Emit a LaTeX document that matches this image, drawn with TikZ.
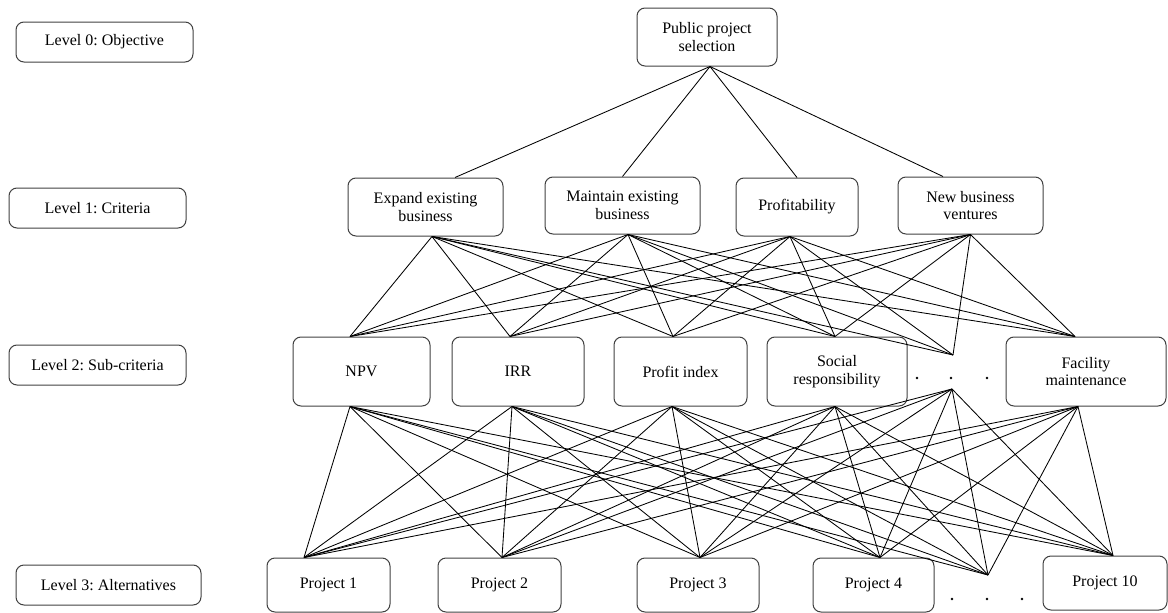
\documentclass[tikz,border=0pt]{standalone}
\usepackage{fontspec}
\setmainfont{Liberation Serif}
\frenchspacing
\begin{document}
\begin{tikzpicture}[x=1pt,y=-1pt,
  box/.style={draw=black!75, line width=1pt, rounded corners=8pt, inner sep=0pt,
    align=center, font=\fontsize{16}{17.5}\selectfont},
  link/.style={draw=black, line width=0.85pt},
  dotmark/.style={circle, fill=black, inner sep=0pt, minimum size=2.8pt}]
\useasboundingbox (0,0) rectangle (1168,613);

% level labels on the left
\node[box, minimum width=177pt, minimum height=40pt] (lab0) at (104.5,42) {Level 0: Objective};
\node[box, minimum width=177pt, minimum height=40pt] (lab1) at (97.5,208) {Level 1: Criteria};
\node[box, minimum width=177pt, minimum height=40pt] (lab2) at (97.5,365) {Level 2: Sub-criteria};
\node[box, minimum width=185pt, minimum height=40pt] (lab3) at (108.5,585) {Level 3: Alternatives};

% level 0: objective
\node[box, minimum width=140pt, minimum height=58pt] (goal) at (707,37) {Public project\\selection};

% level 1: criteria
\node[box, minimum width=155pt, minimum height=58pt] (e1) at (425.5,207) {Expand existing\\business};
\node[box, minimum width=155pt, minimum height=57pt] (e2) at (622.5,205.5) {Maintain existing\\business};
\node[box, minimum width=122pt, minimum height=58pt] (e3) at (797,207) {Profitability};
\node[box, minimum width=145pt, minimum height=57pt] (e4) at (970.5,205.5) {New business\\ventures};

% level 2: sub-criteria
\node[box, minimum width=137pt, minimum height=69pt] (s1) at (361.5,371.5) {NPV};
\node[box, minimum width=132pt, minimum height=69pt] (s2) at (518,371.5) {IRR};
\node[box, minimum width=133pt, minimum height=69pt] (s3) at (680.5,371.5) {Profit index};
\node[box, minimum width=140pt, minimum height=69pt] (s4) at (837,371.5) {Social\\responsibility};
\node[box, minimum width=160pt, minimum height=69pt] (s5) at (1086,371.5) {Facility\\maintenance};

% level 3: alternatives
\node[box, minimum width=123pt, minimum height=54pt] (p1) at (328.5,585) {Project 1};
\node[box, minimum width=123pt, minimum height=54pt] (p2) at (499.5,585) {Project 2};
\node[box, minimum width=122pt, minimum height=54pt] (p3) at (698,585) {Project 3};
\node[box, minimum width=121pt, minimum height=54pt] (p4) at (873.5,585) {Project 4};
\node[box, minimum width=124pt, minimum height=54pt] (p10) at (1105,583) {Project 10};

% ellipsis marks for omitted sub-criteria and projects
\node[dotmark] (d21) at (917,378) {};
\node[dotmark] (d22) at (951,378) {};
\node[dotmark] (d23) at (987,378) {};
\node[dotmark] (d31) at (952,599) {};
\node[dotmark] (d32) at (987,599) {};
\node[dotmark] (d33) at (1022,599) {};

% attachment points of the connectors
\coordinate (goal-out) at ([xshift=3pt]goal.south);
\coordinate (e1-in) at ([xshift=29.5pt]e1.north);
\coordinate (e1-out) at ([xshift=6.5pt]e1.south);
\coordinate (e2-in) at (e2.north);
\coordinate (e2-out) at ([xshift=5.5pt]e2.south);
\coordinate (e3-in) at (e3.north);
\coordinate (e3-out) at ([xshift=-7pt]e3.south);
\coordinate (e4-in) at ([xshift=-27.5pt]e4.north);
\coordinate (e4-out) at (e4.south);

\coordinate (s1-in) at ([xshift=-11.5pt]s1.north);
\coordinate (s1-out) at ([xshift=-11.5pt]s1.south);
\coordinate (s2-in) at ([xshift=-8pt]s2.north);
\coordinate (s2-out) at ([xshift=-6pt]s2.south);
\coordinate (s3-in) at ([xshift=-7.5pt]s3.north);
\coordinate (s3-out) at ([xshift=-8.5pt]s3.south);
\coordinate (s4-in) at ([xshift=-2pt]s4.north);
\coordinate (s4-out) at ([xshift=-2pt]s4.south);
\coordinate (sx-in) at (953,355);
\coordinate (sx-out) at (952,389);
\coordinate (s5-in) at ([xshift=-11pt]s5.north);
\coordinate (s5-out) at ([xshift=-8pt]s5.south);

\coordinate (p1-in) at ([xshift=-24.5pt]p1.north);
\coordinate (p2-in) at ([xshift=2.5pt]p2.north);
\coordinate (p3-in) at ([xshift=2pt]p3.north);
\coordinate (p4-in) at ([xshift=6.5pt]p4.north);
\coordinate (px-in) at (988,575);
\coordinate (p10-in) at ([xshift=8pt]p10.north);

% objective to criteria
\foreach \c in {e1,e2,e3,e4}
  \draw[link] (goal-out) -- (\c-in);

% criteria to sub-criteria
\foreach \a in {e1,e2,e3,e4}
  \foreach \b in {s1,s2,s3,s4,sx,s5}
    \draw[link] (\a-out) -- (\b-in);

% sub-criteria to alternatives
\foreach \a in {s1,s2,s3,s4,sx,s5}
  \foreach \b in {p1,p2,p3,p4,px,p10}
    \draw[link] (\a-out) -- (\b-in);
\end{tikzpicture}
\end{document}
